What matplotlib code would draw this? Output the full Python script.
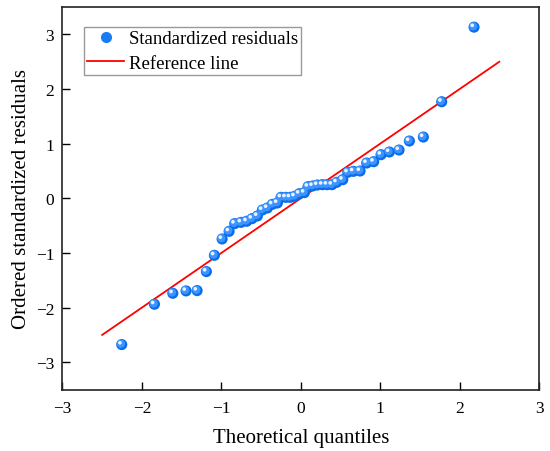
import matplotlib
matplotlib.use("Agg")
import matplotlib.pyplot as plt
import matplotlib.transforms as mtransforms
from matplotlib.lines import Line2D

plt.rcParams['font.family'] = ['Liberation Serif', 'DejaVu Serif']
plt.rcParams['mathtext.fontset'] = 'stix'

theoretical = [-2.254, -1.842, -1.611, -1.444, -1.305, -1.188, -1.087, -0.990,
               -0.902, -0.831, -0.751, -0.680, -0.613, -0.546, -0.483, -0.420,
               -0.357, -0.294, -0.248, -0.189, -0.134, -0.076, -0.017, 0.046,
               0.092, 0.151, 0.210, 0.273, 0.332, 0.394, 0.453, 0.529,
               0.592, 0.663, 0.747, 0.831, 0.919, 1.011, 1.116, 1.238,
               1.368, 1.544, 1.775, 2.182]
residuals = [-2.677, -1.939, -1.738, -1.695, -1.689, -1.341, -1.043, -0.744,
             -0.604, -0.463, -0.440, -0.420, -0.372, -0.323, -0.213, -0.177,
             -0.110, -0.085, 0.018, 0.018, 0.018, 0.037, 0.085, 0.104,
             0.213, 0.226, 0.244, 0.250, 0.250, 0.250, 0.293, 0.341,
             0.476, 0.494, 0.500, 0.646, 0.671, 0.799, 0.848, 0.884,
             1.049, 1.122, 1.768, 3.134]
ref_x = [-2.5, 2.5]
ref_y = [-2.5, 2.5]
xticks = [-3, -2, -1, 0, 1, 2, 3]
yticks = [-3, -2, -1, 0, 1, 2, 3]

fig = plt.figure(figsize=(5.5, 4.52), dpi=100)
ax = fig.add_axes([0.1136, 0.136, 0.8664, 0.846])

ax.plot(ref_x, ref_y, color='#FF0000', lw=1.3, zorder=2)

# sphere-like markers
ax.scatter(theoretical, residuals, s=64, color='#0A6CEB', edgecolors='none', zorder=3)
off1 = mtransforms.offset_copy(ax.transData, fig=fig, x=-0.6, y=0.6, units='points')
ax.scatter(theoretical, residuals, s=36, color='#3C94FF', edgecolors='none', zorder=4, transform=off1)
off2 = mtransforms.offset_copy(ax.transData, fig=fig, x=-1.3, y=1.3, units='points')
ax.scatter(theoretical, residuals, s=7, color='#E8F3FF', edgecolors='none', zorder=5, transform=off2)

ax.set_xlim(-3, 3)
ax.set_ylim(-3.5, 3.5)
ax.set_xticks(xticks)
ax.set_yticks(yticks)
ax.set_xticklabels([str(t).replace('-', '\u2212') for t in xticks])
ax.set_yticklabels([str(t).replace('-', '\u2212') for t in yticks])
ax.tick_params(direction='in', length=5.5, width=1, labelsize=12.5, top=False, right=False)
ax.tick_params(axis='x', pad=7.5)
ax.tick_params(axis='y', pad=6)
for sp in ax.spines.values():
    sp.set_linewidth(1.2)
    sp.set_color('#222222')

ax.set_xlabel('Theoretical quantiles', fontsize=15, labelpad=9)
ax.set_ylabel('Ordered standardized residuals', fontsize=15, labelpad=3)

handles = [
    Line2D([], [], ls='none', marker='o', markersize=8, markerfacecolor='#1A7CF5',
           markeredgecolor='none'),
    Line2D([], [], color='#FF0000', lw=1.3),
]
leg = ax.legend(handles, ['Standardized residuals', 'Reference line'], loc='upper left',
                bbox_to_anchor=(0.0453, 0.947), borderaxespad=0, fontsize=13.5,
                fancybox=False, edgecolor='#999999', framealpha=1, handlelength=2.0,
                borderpad=0.15, labelspacing=0.4, handletextpad=0.25)
leg.get_frame().set_linewidth(1.0)

fig.savefig('out.png', dpi=100)
